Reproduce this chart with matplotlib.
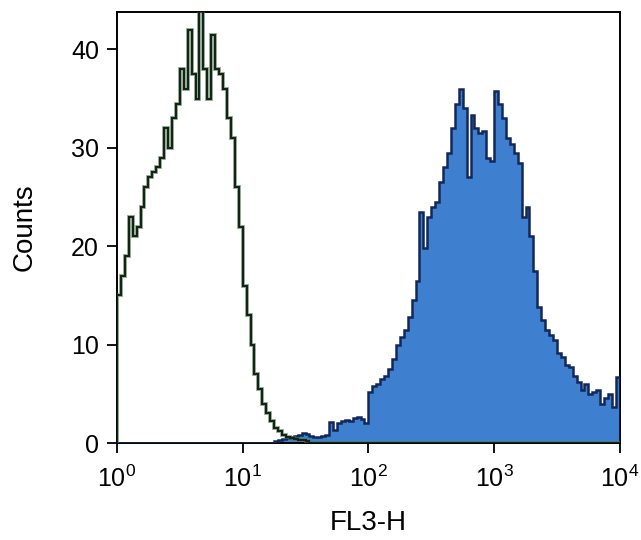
import numpy as np
import matplotlib
matplotlib.use("Agg")
import matplotlib.pyplot as plt

plt.rcParams['font.family'] = ['Liberation Sans', 'DejaVu Sans']
plt.rcParams['mathtext.fontset'] = 'custom'
plt.rcParams['mathtext.rm'] = 'Liberation Sans'

# 32 channels per decade, 10^0 .. 10^4
chan_per_decade = 32
n_chan = 128

# isotype control (open, green outline)
green_counts = [15, 17, 19, 23, 21, 22, 24, 26, 27, 27.5,
                28, 29, 32, 30, 33, 34.5, 38, 36, 42, 37.5,
                35, 44, 38, 35, 41.5, 38, 37.5, 36, 33, 31,
                26, 22, 16, 13, 10, 7, 5.5, 4, 3, 2.2,
                1.5, 1.2, 0.8, 0.6, 0.5, 0.4, 0.3, 0.3, 0.2]

# stained sample (filled blue), starts at channel 40
blue_start = 40
blue_counts = [0.2, 0.3, 0.4, 0.5, 0.6, 0.7, 0.8, 1.0, 0.9, 0.7,
               0.6, 0.6, 0.7, 0.8, 2.1, 1.3, 2.0, 2.2, 2.3, 2.2,
               2.5, 2.6, 2.4, 2.0, 5.2, 5.8, 6.0, 6.5, 6.8, 7.5,
               8.5, 10.0, 10.8, 11.5, 12.8, 14.5, 16.5, 23.5, 19.8, 23.0,
               24.0, 24.5, 26.5, 28.0, 29.5, 32.0, 34.5, 36.0, 34.0, 27.0,
               33.3, 32.0, 31.5, 31.7, 29.0, 28.7, 35.8, 34.5, 33.0, 31.0,
               30.4, 29.5, 28.5, 23.0, 24.0, 21.0, 17.5, 13.8, 12.5, 11.5,
               11.0, 10.5, 9.1, 8.7, 7.9, 7.7, 6.8, 6.2, 5.4, 6.0,
               5.0, 5.2, 5.4, 4.0, 4.6, 5.0, 3.7, 6.7]

edges = 10 ** (np.arange(n_chan + 1) / chan_per_decade)

g = np.zeros(n_chan)
g[:len(green_counts)] = green_counts
b = np.zeros(n_chan)
b[blue_start:blue_start + len(blue_counts)] = blue_counts

fig = plt.figure(figsize=(6.41, 5.40), dpi=100)
ax = fig.add_axes([0.1825, 0.1796, 0.7845, 0.7982])

# blue filled histogram
ax.stairs(b, edges, fill=True, color='#3f7fcf', zorder=2)
ax.stairs(b, edges, color='#12285a', lw=1.8, zorder=3)
# green outline histogram
ax.stairs(g, edges, color='#4f7a55', lw=2.8, alpha=0.6, zorder=4)
ax.stairs(g, edges, color='#142414', lw=1.5, zorder=5)

ax.set_xscale('log')
ax.set_xlim(1, 1e4)
ax.set_ylim(0, 43.8)
ax.set_xticks([1, 10, 100, 1000, 10000])
ax.set_yticks([0, 10, 20, 30, 40])
ax.xaxis.set_minor_locator(matplotlib.ticker.NullLocator())

ax.tick_params(axis='both', direction='out', length=7, width=1.3, labelsize=18)
ax.tick_params(axis='x', pad=9)
ax.tick_params(axis='y', pad=6)
for s in ax.spines.values():
    s.set_linewidth(1.4)

ax.set_xlabel('FL3-H', fontsize=20, labelpad=13)
ax.set_ylabel('Counts', fontsize=20, labelpad=24)

fig.savefig('out.png', dpi=100)
